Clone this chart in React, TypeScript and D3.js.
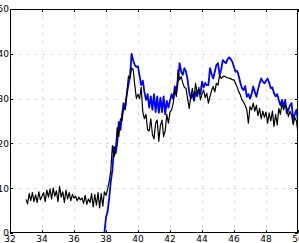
import React, { useRef, useEffect } from 'react';
import * as d3 from 'd3';

// sampled every 0.1 on x
const blackStart = 33.0;
const blackValues = [
  7.5, 6.5, 8.8, 7.2, 9.0, 7.0, 8.5, 6.8, 9.2, 7.4,
  8.2, 9.0, 7.0, 9.6, 8.0, 9.8, 7.6, 10.0, 8.2, 9.4,
  7.0, 10.4, 8.0, 9.2, 6.8, 9.6, 7.6, 9.0, 7.2, 8.6,
  7.8, 8.2, 7.2, 8.0, 7.4, 7.8, 6.6, 8.4, 6.4, 7.6,
  6.8, 8.8, 5.8, 8.6, 6.2, 9.0, 5.6, 8.8, 6.0, 9.2,
  8.4, 9.8, 11.5, 14, 19.5, 17, 18.5, 23.5, 21.5, 25.5,
  25, 28, 27.5, 31, 35, 34.5, 36.8, 36.5, 33, 30,
  31, 30, 32.5, 27, 25.5, 26.5, 23, 22.8, 25.5, 22,
  21, 24.5, 25.2, 20.5, 24, 25.2, 21.5, 22.8, 26.5, 24.5,
  27, 27.5, 29, 31.9, 30.5, 36.4, 34.2, 34.9, 33.5, 32.5,
  32.3, 30, 27.8, 30.5, 32.3, 30, 33.4, 31, 32.5, 29.7,
  31, 31.9, 30.2, 31.2, 29, 30.5, 31.8, 32.7, 31.5, 33.4,
  33, 35.3, 34.5, 34.9, 35, 34.8, 34.6, 34.6, 34.4, 34.2,
  34.2, 33.4, 32.5, 31.5, 30.8, 29.7, 29.2, 28.5, 27.5, 24.5,
  28.2, 27.5, 29, 27.2, 28.5, 26.2, 27.8, 25.5, 27.2, 25.8,
  27, 24.5, 26.8, 25, 27.2, 23.8, 26.5, 24.1, 27.8, 26.5,
  29, 27.5, 28.5, 28, 26, 27.2, 26.3, 24.2, 25.8, 25,
  22.3,
];

const blueStart = 37.9;
const blueValues = [
  0,
  3.5, 4.8, 7.8, 11.5, 14, 19.3, 17.8, 20, 24.8, 23,
  26.3, 29, 28, 31, 33, 35, 40, 38.5, 37.5, 37.1,
  37.2, 35, 33, 34, 31.5, 29.7, 31, 28, 30.5, 27.5,
  31, 27, 30.5, 26.8, 30.2, 27, 30.5, 26.5, 29.5, 28,
  29.5, 31, 30, 32.7, 31.5, 34, 37.9, 36, 35.3, 36.8,
  36, 34.2, 31.5, 30, 31, 29.5, 31.5, 30.5, 32, 31,
  33.8, 32.5, 33.5, 33, 33, 36.8, 35.5, 34.5, 36, 37.5,
  37.9, 35.3, 36.5, 38.6, 38.2, 37.9, 38.8, 39.2, 38.8, 38.2,
  37, 36, 36.2, 35, 33.5, 32.3, 31.9, 32.8, 30.4, 31,
  30, 31, 32.7, 31.5, 30.4, 32, 33.4, 34.5, 33.8, 33.4,
  34, 34.5, 33.5, 32.3, 32.5, 31.2, 30.5, 31, 29.7, 28.5,
  29.7, 28.2, 29.7, 26.7, 27.5, 28.5, 29, 25.2, 26.5, 27.5,
  25,
];

const xTicks = [32, 34, 36, 38, 40, 42, 44, 46, 48, 50];
const yTicks = [0, 10, 20, 30, 40, 50];

const W = 299;
const H = 243;

function App() {
  const ref = useRef<SVGSVGElement>(null);

  useEffect(() => {
    const svg = d3.select(ref.current);
    svg.selectAll('*').remove();

    const left = 10, top = 9, right = 298, bottom = 233;
    const x = d3.scaleLinear().domain([32, 50]).range([left, right]);
    const y = d3.scaleLinear().domain([0, 50]).range([bottom, top]);

    const g = svg.append('g');

    // grid
    g.selectAll('.gx')
      .data(xTicks.slice(1, -1))
      .enter().append('line')
      .attr('x1', d => Math.round(x(d)) + 0.5).attr('x2', d => Math.round(x(d)) + 0.5)
      .attr('y1', top).attr('y2', bottom)
      .attr('stroke', '#dcdcdc').attr('stroke-dasharray', '3,5');
    g.selectAll('.gy')
      .data(yTicks.slice(1, -1))
      .enter().append('line')
      .attr('y1', d => Math.round(y(d)) + 0.5).attr('y2', d => Math.round(y(d)) + 0.5)
      .attr('x1', left).attr('x2', right)
      .attr('stroke', '#dcdcdc').attr('stroke-dasharray', '3,5');

    svg.append('clipPath').attr('id', 'plotclip')
      .append('rect').attr('x', left).attr('y', top).attr('width', right - left).attr('height', bottom - top);

    const line = d3.line<[number, number]>().x(d => x(d[0])).y(d => y(d[1]));
    const blueData: [number, number][] = blueValues.map((v, i) => [blueStart + i * 0.1, v]);
    const blackData: [number, number][] = blackValues.map((v, i) => [blackStart + i * 0.1, v]);

    const plot = g.append('g').attr('clip-path', 'url(#plotclip)');
    plot.append('path').attr('d', line(blueData))
      .attr('fill', 'none').attr('stroke', '#0000ff').attr('stroke-width', 1.8)
      .attr('stroke-linejoin', 'round');
    plot.append('path').attr('d', line(blackData))
      .attr('fill', 'none').attr('stroke', '#000').attr('stroke-width', 1.2)
      .attr('stroke-linejoin', 'round');

    // frame
    g.append('rect').attr('x', left + 0.5).attr('y', top + 0.5)
      .attr('width', right - left - 1).attr('height', bottom - top - 1)
      .attr('fill', 'none').attr('stroke', '#000').attr('stroke-width', 1);

    // inward ticks on all sides
    xTicks.forEach(t => {
      const px = Math.round(x(t)) + 0.5;
      g.append('line').attr('x1', px).attr('x2', px).attr('y1', bottom).attr('y2', bottom - 3).attr('stroke', '#000');
      g.append('line').attr('x1', px).attr('x2', px).attr('y1', top).attr('y2', top + 3).attr('stroke', '#000');
    });
    yTicks.forEach(t => {
      const py = Math.round(y(t)) + 0.5;
      g.append('line').attr('y1', py).attr('y2', py).attr('x1', left).attr('x2', left + 3).attr('stroke', '#000');
      g.append('line').attr('y1', py).attr('y2', py).attr('x1', right).attr('x2', right - 3).attr('stroke', '#000');
    });

    g.selectAll('.xl')
      .data(xTicks)
      .enter().append('text')
      .attr('x', d => x(d)).attr('y', 242)
      .attr('text-anchor', 'middle')
      .attr('font-family', 'DejaVu Sans').attr('font-size', 9)
      .text(d => String(d));
    g.selectAll('.yl')
      .data(yTicks)
      .enter().append('text')
      .attr('x', 9).attr('y', d => y(d) + 3.3)
      .attr('text-anchor', 'end')
      .attr('font-family', 'DejaVu Sans').attr('font-size', 9)
      .text(d => String(d));
  }, []);

  return (
    <svg ref={ref} width={W} height={H}
      style={{ position: 'absolute', left: 0, top: 0, background: '#fff' }} />
  );
}

export default App;
